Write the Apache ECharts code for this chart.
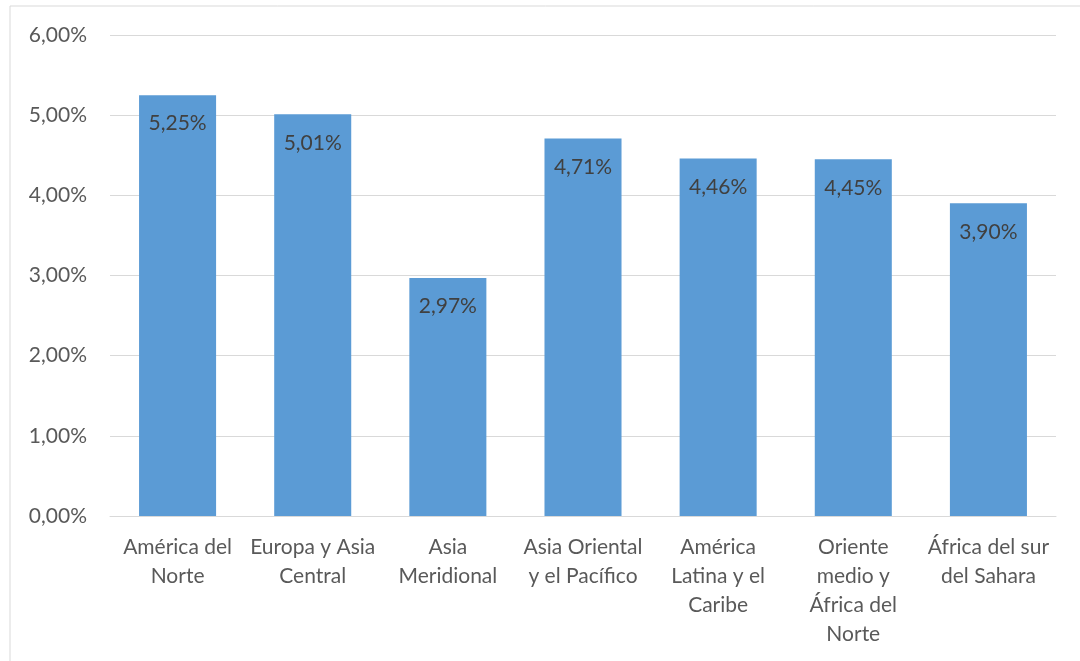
<!DOCTYPE html>
<html><head><meta charset="utf-8">
<script src="https://cdn.jsdelivr.net/npm/echarts@6/dist/echarts.min.js"></script>
<style>html,body{margin:0;padding:0;background:#fff}#c{width:1080px;height:661px}</style>
</head><body><div id="c"></div>
<script>
const categories = ["América del\nNorte","Europa y Asia\nCentral","Asia\nMeridional","Asia Oriental\ny el Pacífico","América\nLatina y el\nCaribe","Oriente\nmedio y\nÁfrica del\nNorte","África del sur\ndel Sahara"];
const values = [5.25, 5.01, 2.97, 4.71, 4.46, 4.45, 3.90];
const yTicks = {min:0, max:6, interval:1};
const fmt = v => v.toFixed(2).replace('.', ',') + '%';
const chart = echarts.init(document.getElementById('c'));
chart.setOption({
  animation:false,
  textStyle:{fontFamily:'Lato'},
  graphic:[{type:'rect',shape:{x:10,y:6,width:1200,height:800},style:{fill:'none',stroke:'#d9d9d9',lineWidth:1},silent:true}],
  grid:{left:110,right:24,top:35,bottom:145,containLabel:false},
  xAxis:{type:'category',data:categories,
    axisLine:{lineStyle:{color:'#d9d9d9'}},axisTick:{show:false},
    axisLabel:{color:'#595959',fontSize:21,lineHeight:29,margin:17,interval:0,fontFamily:'Lato'}},
  yAxis:{type:'value',min:yTicks.min,max:yTicks.max,interval:yTicks.interval,
    axisLine:{show:false},axisTick:{show:false},
    splitLine:{lineStyle:{color:'#d9d9d9'}},
    axisLabel:{color:'#595959',fontSize:21,margin:23,formatter:v=>fmt(v),fontFamily:'Lato'}},
  series:[{type:'bar',data:values,barWidth:'57%',itemStyle:{color:'#5B9BD5'},
    label:{show:true,position:'insideTop',distance:18,color:'#404040',fontSize:21,fontFamily:'Lato',formatter:p=>fmt(p.value)}}]
});
</script></body></html>
